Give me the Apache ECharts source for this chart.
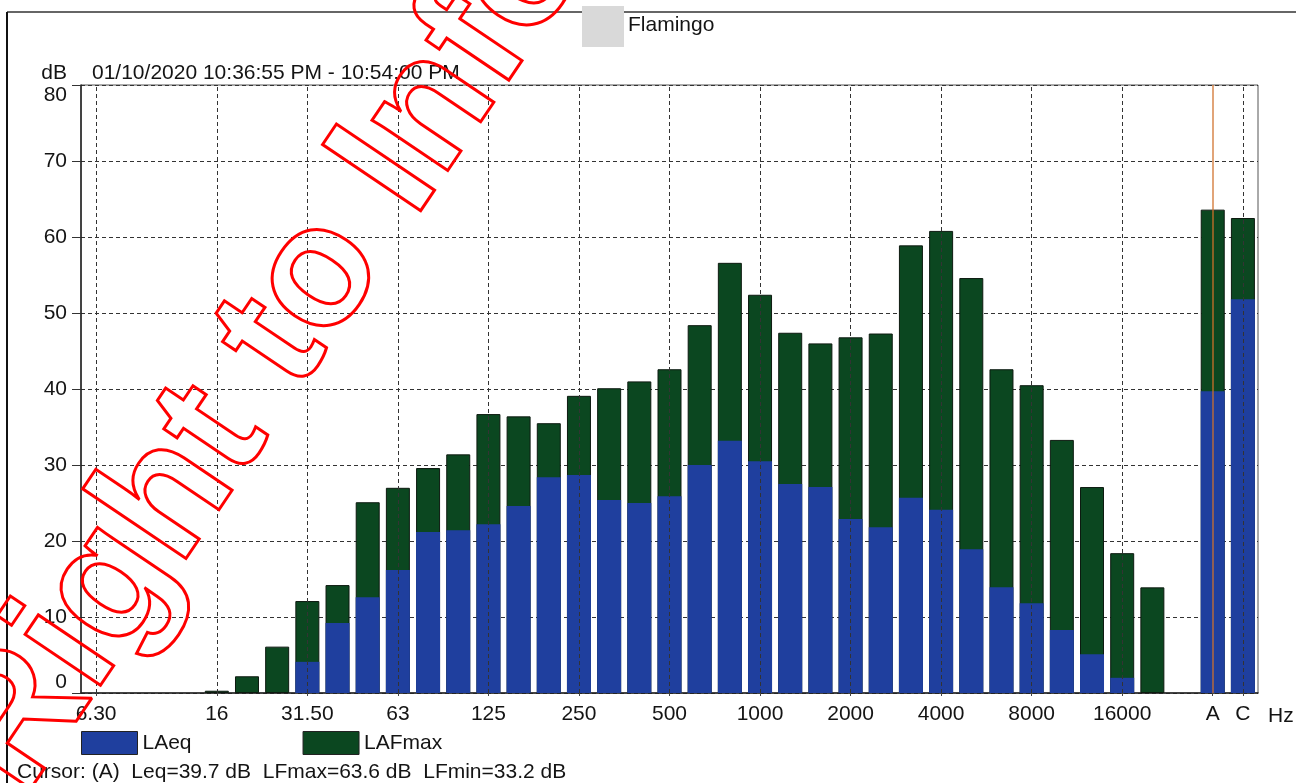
<!DOCTYPE html>
<html>
<head>
<meta charset="utf-8">
<script src="https://cdn.jsdelivr.net/npm/echarts@6/dist/echarts.min.js"></script>
<style>
html,body{margin:0;padding:0;background:#fff;}
#chart{width:1296px;height:783px;}
</style>
</head>
<body>
<div id="chart"></div>
<script>
// 1/3-octave bands (Hz), then a blank slot, then A and C weighted totals
var bands = ['6.3','8','10','12.5','16','20','25','31.5','40','50','63','80','100','125','160','200','250','315','400','500','630','800','1000','1250','1600','2000','2500','3150','4000','5000','6300','8000','10000','12500','16000','20000','','A','C'];
// shown tick labels
var tickBands  = ['6.3','16','31.5','63','125','250','500','1000','2000','4000','8000','16000','A','C'];
var tickTexts  = ['6.30','16','31.50','63','125','250','500','1000','2000','4000','8000','16000','A','C'];
// grid verticals
var gridBands = ['6.3','16','31.5','63','125','250','500','1000','2000','4000','8000','16000','C'];
// LAeq (dB)
var laeq = [null,null,null,null,null,null,null,4.1,9.2,12.6,16.2,21.2,21.4,22.2,24.6,28.4,28.7,25.4,25.0,25.9,30.0,33.2,30.5,27.5,27.1,22.9,21.8,25.7,24.1,18.9,13.9,11.8,8.3,5.1,2.0,null,null,39.7,51.8];
// LAFmax (dB)
var lafmax = [null,null,null,null,0.3,2.2,6.1,12.1,14.2,25.1,27.0,29.6,31.4,36.7,36.4,35.5,39.1,40.1,41.0,42.6,48.4,56.6,52.4,47.4,46.0,46.8,47.3,58.9,60.8,54.6,42.6,40.5,33.3,27.1,18.4,13.9,null,63.6,62.5];
var yTicks = [0,10,20,30,40,50,60,70,80];
var cursorBand = 'A';
var seriesNames = ['LAeq','LAFmax'];
var titleText = '01/10/2020 10:36:55 PM - 10:54:00 PM';
var headerText = 'Flamingo';
var cursorText = 'Cursor: (A)  Leq=39.7 dB  LFmax=63.6 dB  LFmin=33.2 dB';
var watermarkText = 'Right to Info';

var labelMap = {};
tickBands.forEach(function(b,i){ labelMap[b] = tickTexts[i]; });

var FONT = 'Liberation Sans, Arial, sans-serif';
var TXT = '#141414';
var BLUE = '#1f3f9e';
var GREEN = '#0b4720';

var chart = echarts.init(document.getElementById('chart'), null, {renderer:'canvas'});
var option = {
  animation: false,
  backgroundColor: '#ffffff',
  textStyle: {fontFamily: FONT},
  grid: {left: 81, right: 38, top: 85, bottom: 90, show: true, borderColor: '#555', borderWidth: 1, containLabel: false},
  xAxis: {
    type: 'category',
    data: bands,
    boundaryGap: true,
    axisLine: {show: true, lineStyle: {color: '#222', width: 1.5}},
    axisTick: {show: true, alignWithLabel: true, length: 3, interval: function(i, v){ return labelMap[v] !== undefined; }, lineStyle: {color: '#444'}},
    axisLabel: {interval: 0, margin: 11, fontSize: 21, color: TXT, fontFamily: FONT,
      formatter: function(v){ return labelMap[v] !== undefined ? labelMap[v] : ''; }},
    splitLine: {show: false}
  },
  yAxis: {
    type: 'value', min: 0, max: 80, interval: 10,
    axisLine: {show: true, lineStyle: {color: '#222', width: 1.5}},
    axisTick: {show: true, length: 9, lineStyle: {color: '#333'}},
    axisLabel: {margin: 14, fontSize: 21, color: TXT, fontFamily: FONT,
      verticalAlignMinLabel: 'bottom', verticalAlignMaxLabel: 'top'},
    splitLine: {show: true, lineStyle: {color: '#333', type: [4, 3], width: 1}}
  },
  legend: {
    data: seriesNames,
    left: 81, top: 731, padding: 0,
    itemWidth: 56, itemHeight: 23, itemGap: 111,
    icon: 'rect',
    itemStyle: {borderColor: '#222', borderWidth: 1},
    textStyle: {fontSize: 21, color: TXT, fontFamily: FONT}
  },
  series: [
    {
      name: 'grid', type: 'line', data: [], z: 1, silent: true, symbol: 'none',
      markLine: {
        silent: true, symbol: ['none','none'], label: {show: false},
        lineStyle: {color: '#333', type: [4, 3], width: 1},
        data: gridBands.map(function(b){ return {xAxis: b}; })
      }
    },
    {
      name: 'LAFmax', type: 'bar', data: lafmax, barWidth: 24, z: 2,
      itemStyle: {color: GREEN, borderColor: '#0d1a10', borderWidth: 1}
    },
    {
      name: 'LAeq', type: 'bar', data: laeq, barWidth: 24, barGap: '-100%', z: 3,
      itemStyle: {color: BLUE}
    },
    {
      name: 'cursor', type: 'line', data: [], z: 10, silent: true, symbol: 'none',
      markLine: {
        silent: true, symbol: ['none','none'], label: {show: false},
        lineStyle: {color: '#d0702c', type: 'solid', width: 1.5, opacity: 0.85},
        data: [{xAxis: cursorBand}]
      }
    }
  ],
  graphic: [
    {type: 'line', shape: {x1: 7, y1: 12, x2: 1296, y2: 12}, style: {stroke: '#666', lineWidth: 2}},
    {type: 'line', shape: {x1: 7, y1: 12, x2: 7, y2: 783}, style: {stroke: '#111', lineWidth: 2}},
    {type: 'rect', shape: {x: 582, y: 6, width: 42, height: 41}, style: {fill: '#d9d9d9'}},
    {type: 'text', x: 628, y: 25, style: {text: headerText, font: '21px ' + FONT, fill: TXT, textVerticalAlign: 'middle'}},
    {type: 'text', x: 67, y: 73, style: {text: 'dB', font: '21px ' + FONT, fill: TXT, textAlign: 'right', textVerticalAlign: 'middle'}},
    {type: 'text', x: 92, y: 73, style: {text: titleText, font: '21px ' + FONT, fill: TXT, textVerticalAlign: 'middle'}},
    {type: 'text', x: 1268, y: 716, style: {text: 'Hz', font: '21px ' + FONT, fill: TXT, textVerticalAlign: 'middle'}},
    {type: 'text', x: 17, y: 772, style: {text: cursorText, font: '21px ' + FONT, fill: TXT, textVerticalAlign: 'middle'}},
    {type: 'text', x: 268, y: 352, rotation: 56 * Math.PI / 180, z: 100, silent: true,
      style: {text: watermarkText, font: 'bold 172px ' + FONT, fill: 'rgba(255,255,255,0)', stroke: '#ff0000', lineWidth: 3,
        textAlign: 'center', textVerticalAlign: 'middle'}}
  ]
};
chart.setOption(option);
</script>
</body>
</html>
